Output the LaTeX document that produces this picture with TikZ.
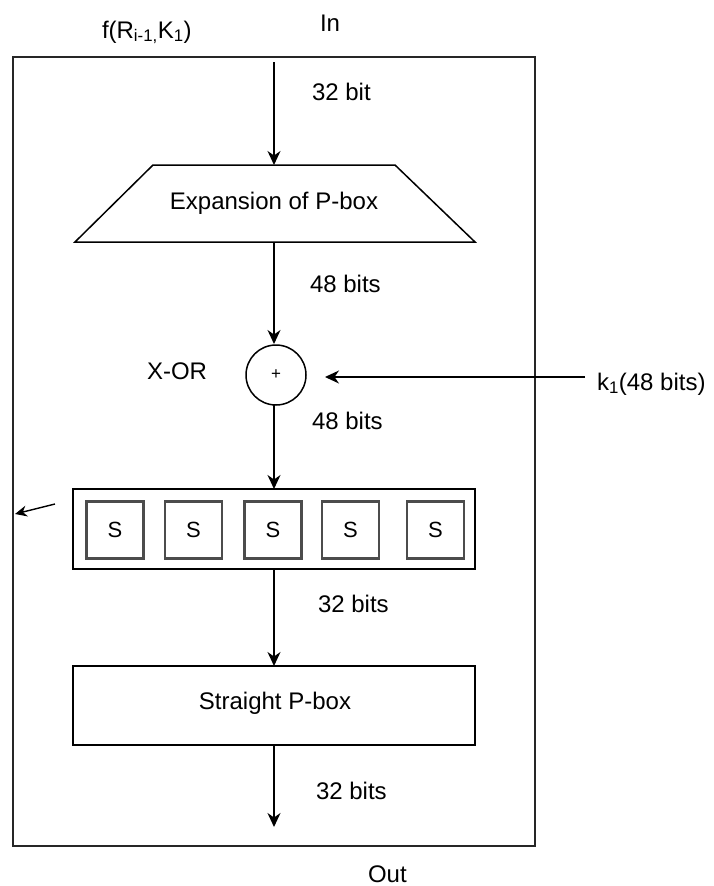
\documentclass[tikz,border=0pt]{standalone}
\usepackage{fontspec}
\setmainfont{Liberation Sans}
\usetikzlibrary{arrows.meta,shapes.geometric}
\begin{document}
\begin{tikzpicture}[x=1pt,y=-1pt,
  line width=1.5pt,
  every node/.style={inner sep=0pt,outer sep=0pt,font=\fontsize{24}{28}\selectfont},
  arr/.style={-{Stealth[length=14pt,width=13pt,inset=4.5pt]}},
  lbl/.style={anchor=base west},
  sbox/.style={draw=black!70,line width=2.4pt,minimum width=57pt,minimum height=57pt,font=\fontsize{22}{26}\selectfont},
  blk/.style={draw,line width=1.5pt}]
\useasboundingbox (0,0) rectangle (713,886);
% outer frame
\draw[line width=1.6pt,black!85] (13,57) rectangle (535,846);
% titles
\node[lbl] (ftitle) at (102,38) {f(R\textsubscript{i-1,}K\textsubscript{1})};
\node[lbl] (in) at (320,31) {In};
\node[lbl] (out) at (368,882) {Out};
% expansion trapezoid
\draw[blk] (153,165) -- (395,165) -- (475,242) -- (75,242) -- cycle;
\coordinate (exptop) at (274,165);
\coordinate (expbot) at (274,242);
\node (exp) at (274,203) {Expansion of P-box};
\coordinate (instart) at (274,62);
\draw[arr] (instart) -- (exptop);
\node[lbl] (l32a) at (312,100) {32 bit};
% xor
\node[draw,circle,minimum size=60pt,line width=1.5pt,font=\fontsize{17}{18}\selectfont] (xor) at (276,375) {+};
\draw[arr] (expbot) -- (274,344);
\node[lbl] (l48a) at (310,292) {48 bits};
\node[lbl] (xorl) at (147,379) {X-OR};
\node[lbl] (key) at (597,390) {k\textsubscript{1}(48 bits)};
\coordinate (keystart) at (585,377);
\coordinate (keyend) at (325,377);
\draw[arr] (keystart) -- (keyend);
\node[lbl] (l48b) at (312,429) {48 bits};
% s-box container
\node[blk,minimum width=402pt,minimum height=80pt] (sbank) at (274,529) {};
\draw[arr] (274,405) -- (sbank.north);
\node[sbox] (s1) at (115,530) {S};
\node[sbox] (s2) at (193.5,530) {S};
\node[sbox] (s3) at (273,530) {S};
\node[sbox] (s4) at (350.5,530) {S};
\node[sbox] (s5) at (435.5,530) {S};
\coordinate (sa) at (55,504);
\coordinate (sb) at (15,514);
\draw[-{Stealth[length=12pt,width=11pt,inset=4pt]},line width=1.4pt] (sa) -- (sb);
% straight p-box
\node[blk,minimum width=402pt,minimum height=79pt] (spbox) at (274,705.5) {};
\node (sptext) at (275,703) {Straight P-box};
\draw[arr] (sbank.south) -- (spbox.north);
\node[lbl] (l32b) at (318,612) {32 bits};
\coordinate (outend) at (274,827);
\draw[arr] (spbox.south) -- (outend);
\node[lbl] (l32c) at (316,799) {32 bits};
\end{tikzpicture}
\end{document}
